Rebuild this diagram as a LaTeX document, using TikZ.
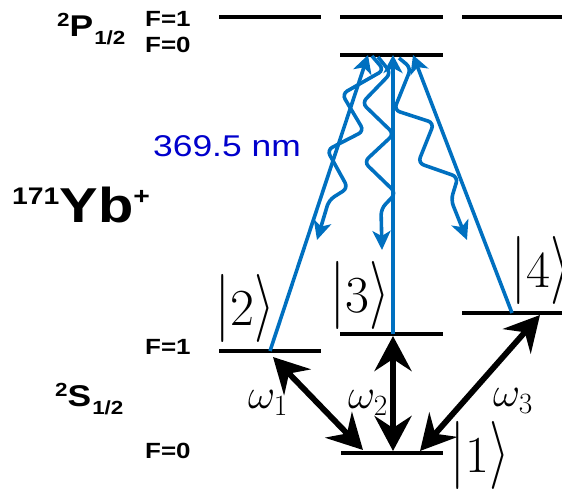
\RequirePackage{fix-cm}
\documentclass[tikz,border=0pt]{standalone}
\usepackage[no-math]{fontspec}
\newfontfamily\arial{Liberation Sans}
\usetikzlibrary{arrows.meta}
\definecolor{lblue}{HTML}{0070C0}
\definecolor{tblue}{HTML}{0000CC}
\newcommand\hstretch[1]{\scalebox{1.18}[1]{#1}}
\newcommand\fsz[1]{\fontsize{#1}{#1}\selectfont}
\newcommand\ketlab[1]{{\fsz{52}$\scalebox{1}[1.31]{$|$}#1\scalebox{1}[1.31]{$\rangle$}$}}
\newcommand\omlab[1]{{\fsz{42}$\omega_{#1}$}}
\begin{document}
\begin{tikzpicture}[x=1pt,y=-1pt,
  level/.style={line width=3.2pt},
  beam/.style={lblue,line width=3.6pt,-{Stealth[length=18pt,width=19pt,inset=5pt]}},
  decay/.style={lblue,line width=3.6pt,rounded corners=6pt,-{Stealth[length=19pt,width=18pt,inset=5pt]}},
  coup/.style={line width=5.8pt,{Stealth[length=35pt,width=37pt,inset=12pt]}-{Stealth[length=35pt,width=37pt,inset=12pt]}},
  lab/.style={inner sep=0pt,anchor=base west,font=\arial\bfseries},
  ket/.style={inner sep=0pt},
  om/.style={inner sep=0pt}]
\useasboundingbox (0,0) rectangle (562,494);
\clip (0,0) rectangle (562,494);
% level coordinates
\coordinate (pa1) at (219,17); \coordinate (pa2) at (321,17);
\coordinate (pb1) at (340,17); \coordinate (pb2) at (443,17);
\coordinate (pc1) at (462,17); \coordinate (pc2) at (562,17);
\coordinate (p01) at (340,55); \coordinate (p02) at (443,55);
\coordinate (s21) at (219,351); \coordinate (s22) at (321,351);
\coordinate (s31) at (340,334); \coordinate (s32) at (443,334);
\coordinate (s41) at (462,313); \coordinate (s42) at (562,313);
\coordinate (s11) at (341,453); \coordinate (s12) at (443,453);
\draw[level] (pa1) -- (pa2);
\draw[level] (pb1) -- (pb2);
\draw[level] (pc1) -- (pc2);
\draw[level] (p01) -- (p02);
\draw[level] (s21) -- (s22);
\draw[level] (s31) -- (s32);
\draw[level] (s41) -- (s42);
\draw[level] (s11) -- (s12);
% beams
\coordinate (b2s) at (270,351); \coordinate (b2e) at (368,55);
\coordinate (b3s) at (393,334); \coordinate (b3e) at (393,55);
\coordinate (b4s) at (512,313); \coordinate (b4e) at (413,55);
\draw[beam] (b2s) -- (b2e);
\draw[beam] (b3s) -- (b3e);
\draw[beam] (b4s) -- (b4e);
% decays
\draw[decay] (372,56) -- (384,70) -- (342,94) -- (364,131) -- (327,150) -- (348,188) -- (329,200) -- (317,240);
\draw[decay] (378,57) -- (391,73) -- (362,103) -- (394,134) -- (364,162) -- (396,193) -- (381,209) -- (382,250);
\draw[decay] (399,58) -- (411,68) -- (394,110) -- (434,123) -- (418,163) -- (458,177) -- (451,200) -- (467,240);
% couplings
\coordinate (c1a) at (273,357); \coordinate (c1b) at (363,450);
\coordinate (c2a) at (393,336); \coordinate (c2b) at (393,451);
\coordinate (c3a) at (540,315); \coordinate (c3b) at (420,451);
\draw[coup] (c1a) -- (c1b);
\draw[coup] (c2a) -- (c2b);
\draw[coup] (c3a) -- (c3b);
% kets
\node[ket] (k2) at (245,308) {\ketlab{2}};
\node[ket] (k3) at (360,295) {\ketlab{3}};
\node[ket] (k4) at (541,270) {\ketlab{4}};
\node[ket] (k1) at (480,455) {\ketlab{1}};
% omegas
\node[om] (w1) at (268,403) {\omlab{1}};
\node[om] (w2) at (368,403) {\omlab{2}};
\node[om] (w3) at (513,401) {\omlab{3}};
% labels
\node[lab] (pf1) at (145,27) {\fsz{22}\hstretch{F=1}};
\node[lab] (pf0) at (145,53) {\fsz{22}\hstretch{F=0}};
\node[lab] (sf1) at (145,354) {\fsz{22}\hstretch{F=1}};
\node[lab] (sf0) at (145,458) {\fsz{22}\hstretch{F=0}};
\node[lab] (P) at (57,37) {\hstretch{\fsz{19}\raisebox{10pt}{2}}\hstretch{\fsz{30}P}\hspace{1pt}\hstretch{\fsz{19}\raisebox{-8pt}{1/2}}};
\node[lab] (S) at (55,406) {\hstretch{\fsz{19}\raisebox{10pt}{2}}\hstretch{\fsz{30}S}\hspace{1pt}\hstretch{\fsz{19}\raisebox{-8pt}{1/2}}};
\node[lab] (ion) at (12,223) {\hstretch{\fsz{24}\raisebox{18pt}{171}}\hstretch{\fsz{49}Yb}\hstretch{\fsz{24}\raisebox{18pt}{+}}};
\node[lab,font=\arial,text=tblue] (wl) at (153,157) {\fsz{30}\hstretch{369.5 nm}};
\end{tikzpicture}
\end{document}
